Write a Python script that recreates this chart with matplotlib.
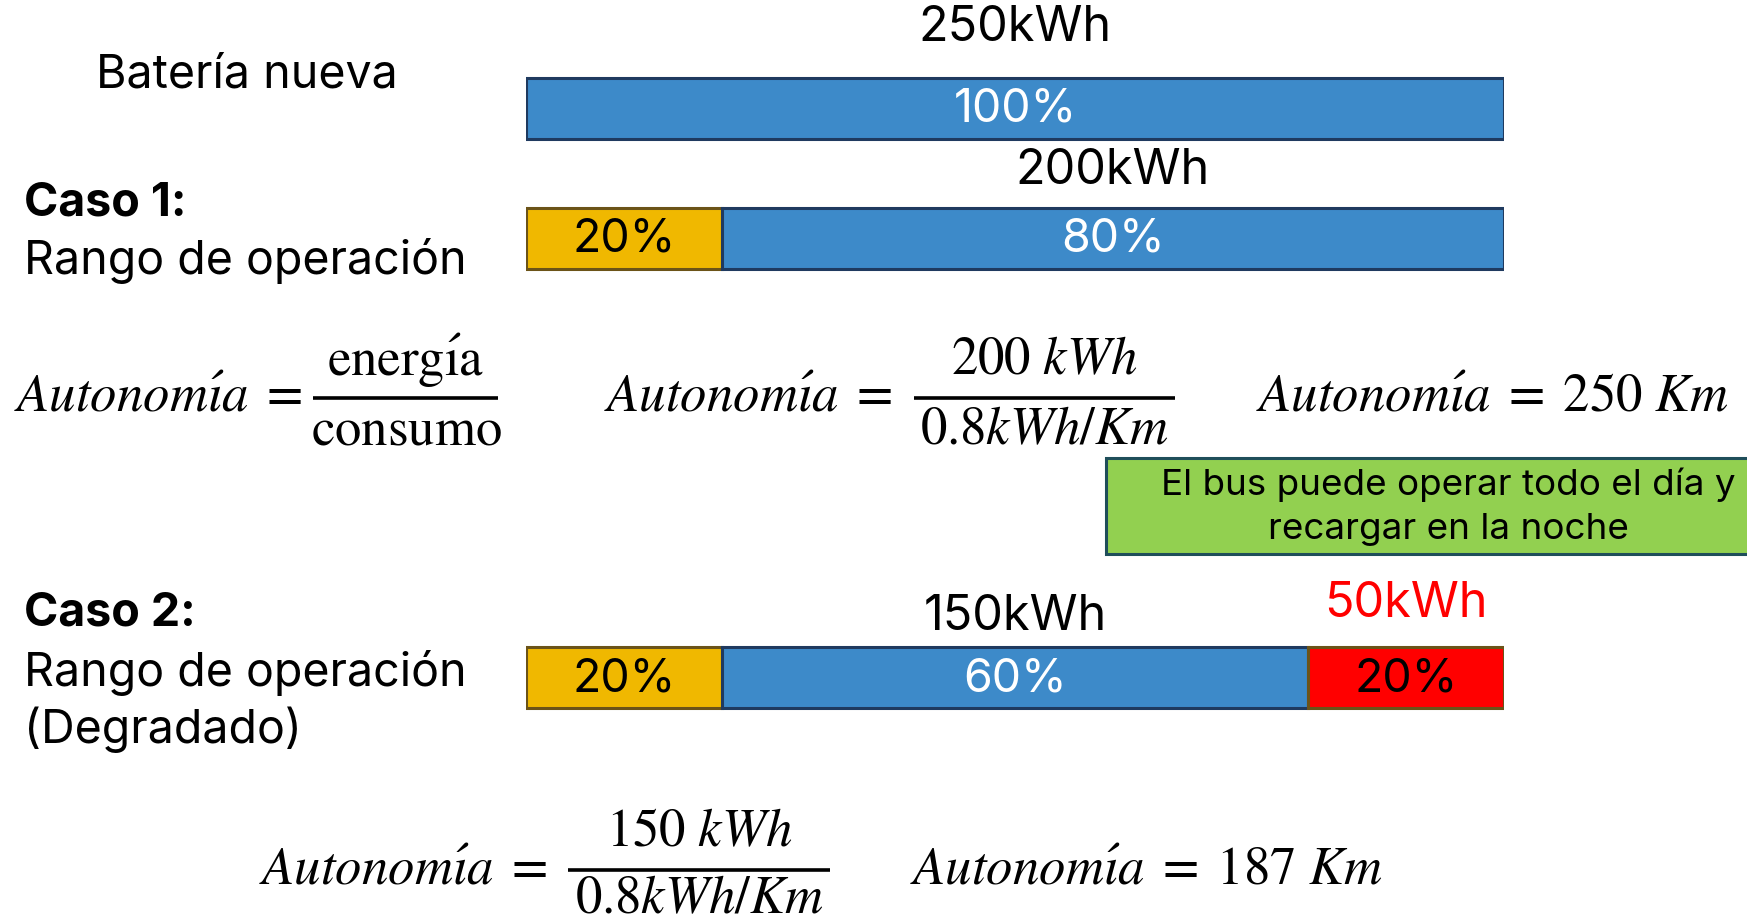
import matplotlib
matplotlib.use("Agg")
import matplotlib.pyplot as plt
from matplotlib.patches import Rectangle

plt.rcParams['mathtext.fontset'] = 'stix'
plt.rcParams['font.family'] = ['Inter', 'DejaVu Sans']

# Battery capacity and segment shares (percent of the nominal capacity)
capacity_kwh = 250
rows = ["Batería nueva", "Caso 1", "Caso 2"]
segments = [
    [100],          # new battery
    [20, 80],       # case 1: reserve + usable
    [20, 60, 20],   # case 2: reserve + usable + lost to degradation
]
seg_colors = [
    ["#3D8AC9"],
    ["#F0B800", "#3D8AC9"],
    ["#F0B800", "#3D8AC9", "#FF0000"],
]
seg_edges = [
    ["#1F3A5F"],
    ["#6B5318", "#1F3A5F"],
    ["#6B5318", "#1F3A5F", "#6B5318"],
]
pct_colors = [
    ["white"],
    ["black", "white"],
    ["black", "white", "black"],
]
# which segment of each row gets a kWh label above it, and its colour
kwh_label_seg = [[0], [1], [1, 2]]
kwh_label_color = [["black"], ["black"], ["black", "#FF0000"]]
kwh_label_y = [[28], [171], [617, 604]]

consumo = 0.8  # kWh/Km

W, H = 1747, 924
fig = plt.figure(figsize=(W / 100, H / 100), dpi=100)
ax = fig.add_axes([0, 0, 1, 1])
ax.set_xlim(0, W)
ax.set_ylim(H, 0)
ax.axis("off")

# Bar axes: x in percent of capacity, y in pixel rows
bx0, bx1 = 526, 1504
bax = fig.add_axes([bx0 / W, 0, (bx1 - bx0) / W, 1])
bax.set_xlim(0, 100)
bax.set_ylim(H, 0)
bax.axis("off")

row_y = [108, 238, 677]
bar_h = 61

for r, segs in enumerate(segments):
    left = 0
    for i, p in enumerate(segs):
        bax.barh(row_y[r], p, left=left, height=bar_h,
                 color=seg_colors[r][i], edgecolor=seg_edges[r][i],
                 linewidth=2.2)
        bax.text(left + p / 2, row_y[r] + 2, f"{p}%", ha="center",
                 va="center", fontsize=33.5, color=pct_colors[r][i])
        left += p
    for k, si in enumerate(kwh_label_seg[r]):
        start = sum(segs[:si])
        kwh = segs[si] * capacity_kwh / 100
        bax.text(start + segs[si] / 2, kwh_label_y[r][k],
                 f"{kwh:.0f}kWh", ha="center", va="center", fontsize=35,
                 color=kwh_label_color[r][k])

# Row titles
lab_fs = 33.5
ax.text(247, 76, "Batería nueva", ha="center", va="center", fontsize=lab_fs)
ax.text(24, 204, "Caso 1:", ha="left", va="center", fontsize=lab_fs,
        fontweight="bold")
ax.text(24, 261, "Rango de operación", ha="left", va="center", fontsize=lab_fs)
ax.text(24, 614, "Caso 2:", ha="left", va="center", fontsize=lab_fs,
        fontweight="bold")
ax.text(24, 673, "Rango de operación", ha="left", va="center", fontsize=lab_fs)
ax.text(24, 730, "(Degradado)", ha="left", va="center", fontsize=lab_fs)

# Formulas
fs = 38
AUT = r"Autonom\acute{\imath}a"


def fraction(xc, y, num, den, x0, x1, dden=33):
    ax.text(xc, y - 37, num, ha="center", va="center", fontsize=fs)
    ax.text(xc, y + dden, den, ha="center", va="center", fontsize=fs)
    ax.plot([x0, x1], [y, y], color="black", lw=2.6, solid_capstyle="butt")


# case 1
energia1 = segments[1][1]
kwh1 = energia1 * capacity_kwh / 100
ax.text(14, 398, rf"${AUT}\;=$", ha="left", va="center", fontsize=fs)
fraction(406, 398, r"$\mathrm{energ\acute{\imath}a}$", r"$\mathrm{consumo}$",
         313, 498)
ax.text(604, 398, rf"${AUT}\;=$", ha="left", va="center", fontsize=fs)
fraction(1044, 398, rf"$\mathrm{{{kwh1:.0f}}}\ kWh$", r"$0.8kWh/Km$", 914, 1175)
ax.text(1256, 398, rf"${AUT}\;=\;{kwh1 / consumo:.0f}\ Km$", ha="left",
        va="center", fontsize=fs)

# case 2
kwh2 = segments[2][1] * capacity_kwh / 100
ax.text(259, 871, rf"${AUT}\;=$", ha="left", va="center", fontsize=fs)
fraction(699, 870, rf"$\mathrm{{{kwh2:.0f}}}\ kWh$", r"$0.8kWh/Km$", 568, 830,
         dden=30)
ax.text(910, 871, rf"${AUT}\;=\;{int(kwh2 / consumo)}\ Km$", ha="left",
        va="center", fontsize=fs)

# Note box
ax.add_patch(Rectangle((1106, 458), 700, 96, facecolor="#92D050",
                       edgecolor="#1F4E5A", linewidth=2.2))
ax.text(1448, 485, "El bus puede operar todo el día y", ha="center",
        va="center", fontsize=26.5)
ax.text(1448, 529, "recargar en la noche", ha="center", va="center",
        fontsize=26.5)

fig.savefig("out.png", dpi=100)
